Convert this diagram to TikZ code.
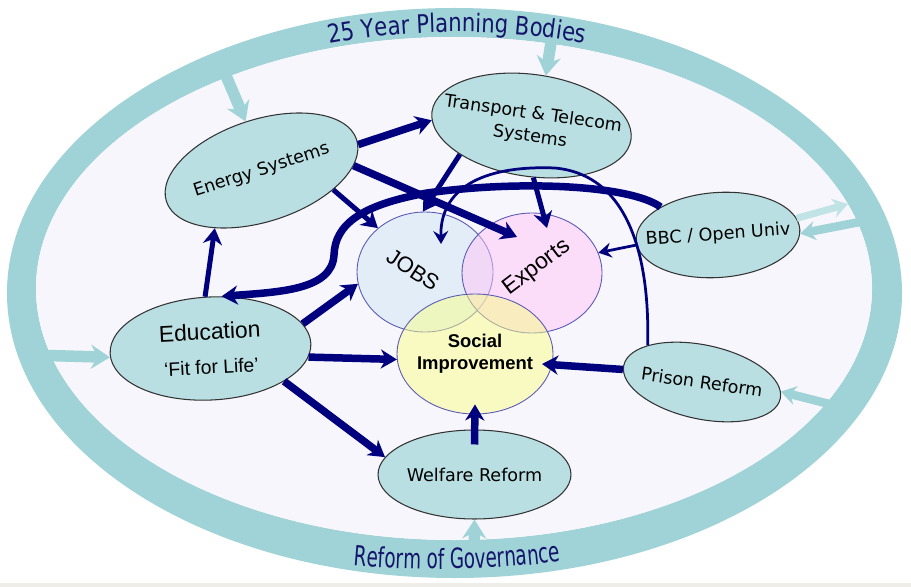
\documentclass[tikz,border=0pt]{standalone}
\usepackage{fontspec}
\setmainfont{Liberation Sans}
\newfontfamily\topicfont{DejaVu Sans}
\newfontfamily\bodiesfont[FakeStretch=0.83]{DejaVu Sans}
\newfontfamily\governfont[FakeStretch=0.66]{DejaVu Sans}
\usepackage{xcolor}
\usetikzlibrary{arrows.meta,calc,decorations.text,positioning,shapes.geometric}
\definecolor{ringteal}{HTML}{9FD3D7}
\definecolor{paleteal}{HTML}{C0E4E6}
\definecolor{bubblefill}{HTML}{B9DFE2}
\definecolor{insidebg}{HTML}{F7F6FD}
\definecolor{linknavy}{HTML}{00007F}
\definecolor{titlenavy}{HTML}{14146B}
\definecolor{vennline}{HTML}{5A5AB4}
\definecolor{jobsblue}{HTML}{D1E6F3}
\definecolor{exportpink}{HTML}{FFC4F7}
\definecolor{socialyellow}{HTML}{F9FF89}
\definecolor{stripgrey}{HTML}{EFEDE8}
\newcommand{\nw}[1]{\makebox[0pt]{#1}}
\tikzset{%
	bubble/.style   = {ellipse, draw=black!80, line width=0.6pt, fill=bubblefill, inner sep=0pt, align=center, font=\topicfont\fontsize{10}{13}\selectfont}, % topic
	venn/.style     = {ellipse, draw=vennline, line width=0.5pt, fill opacity=0.5, text opacity=1, inner sep=0pt, align=center}, % aim
	feed/.style     = {draw=ringteal, line width=0.23cm, -{Stealth[length=3.8mm,width=4.8mm,inset=1.3mm]}}, % from the ring
	smallfeed/.style = {feed, line width=0.17cm, -{Stealth[length=3mm,width=3.8mm,inset=1mm]}},
	link/.style     = {draw=linknavy, line width=0.15cm, -{Stealth[length=3.2mm,width=3.8mm,inset=1mm]}},
	midlink/.style  = {link, line width=0.1cm},
	thinlink/.style = {draw=linknavy, line width=0.055cm, -{Stealth[length=2.6mm,width=3mm,inset=0.9mm]}},
}
\begin{document}
\begin{tikzpicture}[x=0.02cm, y=-0.02cm]
	\useasboundingbox (0,0) rectangle (911,587);
	\fill[white] (0,0) rectangle (911,587);
	\fill[stripgrey] (0,583) rectangle (911,587);
	% ring
	\fill[ringteal, even odd rule] (454.5,293) ellipse [x radius=447.5, y radius=285] (454,288.5) ellipse [x radius=418, y radius=251.5];
	\fill[insidebg] (454,288.5) ellipse [x radius=418, y radius=251.5];
	% aims
	\node[venn, fill=jobsblue, minimum width=2.72cm, minimum height=2.4cm] (jobs) at (425,272) {};
	\node[venn, fill=exportpink, minimum width=2.8cm, minimum height=2.4cm] (exports) at (532,273) {};
	\node[venn, fill=socialyellow, minimum width=3.12cm, minimum height=2.4cm, font=\bfseries\fontsize{10.5}{12.5}\selectfont] (social) at (475,354) {\nw{Social}\\\nw{Improvement}};
	\node[rotate=-33, font=\fontsize{12.5}{14}\selectfont] (jobslabel) at (413,270) {JOBS};
	\node[rotate=37, font=\fontsize{13}{15}\selectfont] (exportslabel) at (537,268) {Exports};
	% topics
	\node[bubble, rotate=18, minimum width=4cm, minimum height=2.04cm] (energy) at (261.5,170.5) {\nw{Energy Systems}};
	\node[bubble, rotate=-8, minimum width=4.02cm, minimum height=2.04cm] (transport) at (531.5,125.5) {\nw{Transport \& Telecom}\\\nw{Systems}};
	\node[bubble, rotate=4, minimum width=3.28cm, minimum height=1.7cm] (bbc) at (718,235) {\nw{BBC / Open Univ}};
	\node[bubble, rotate=-12, minimum width=3.2cm, minimum height=1.48cm] (prison) at (702,382) {\nw{\rotatebox{4}{Prison Reform}}};
	\node[bubble, rotate=3, minimum width=4.02cm, minimum height=2.06cm, font=\fontsize{11}{13.5}\selectfont] (edu) at (210.5,348.5) {\nw{\fontsize{13}{15}\selectfont Education}\\[6pt]\nw{‘Fit for Life’}};
	\node[bubble, minimum width=3.86cm, minimum height=1.78cm] (welfare) at (474.5,474.5) {\nw{Welfare Reform}};
	% feeds from the ring
	\coordinate (ringtl) at (221,64);
	\coordinate (ringtop) at (553,30);
	\coordinate (ringleft) at (30,355);
	\coordinate (ringbbcin) at (870,220);
	\coordinate (ringbbcout) at (848,204);
	\coordinate (ringprison) at (845,408);
	\coordinate (ringbottom) at (474,560);
	\draw[feed] (ringtl) -- (energy.90);
	\draw[feed] (ringtop) -- (transport.82);
	\draw[feed] (ringleft) -- (edu.182);
	\draw[smallfeed] (ringbbcin) -- (bbc.-3);
	\draw[smallfeed, draw=paleteal, line width=0.14cm] (bbc.8) -- (ringbbcout);
	\draw[smallfeed] (ringprison) -- (prison.5);
	\draw[feed] (ringbottom) -- (welfare.south);
	% links
	\draw[link] (energy.-3) -- (transport.185);
	\draw[midlink] (energy.-33) -- (jobs.137);
	\draw[link] (energy.-15) -- ($(exports.center)+(-15,-36)$);
	\draw[midlink] (transport.210) -- (jobs.92);
	\draw[midlink] (transport.-80) -- ($(exports.center)+(15,-45)$);
	\draw[thinlink] (prison.158) .. controls (650,260) and (630,175) .. (555,168) .. controls (480,165) and (440,190) .. ($(jobs.center)+(16,-28)$);
	\draw[link] (bbc.150) .. controls (630,185) and (520,180) .. (427,193) .. controls (360,205) and (335,225) .. (334,255) .. controls (332,290) and (280,292) .. (edu.75);
	\draw[thinlink] (bbc.183) -- (exports.17);
	\draw[midlink] (edu.93) -- (energy.213);
	\draw[link] (edu.12) -- (jobs.190);
	\draw[link] (edu.-8) -- (social.184);
	\draw[link] (edu.-27) -- (welfare.169);
	\draw[link] ([yshift=-0.3cm]welfare.north) -- ($(social.south)+(0,-10)$);
	\draw[link] (prison.183) -- ($(social.center)+(67,10)$);
	% ring titles
	\path[decorate, decoration={text along path, text align=center, text color=titlenavy, text={|\bodiesfont\fontsize{14.5}{16}\selectfont|25 Year Planning Bodies}}] ($(457,293)+(200:433 and 261)$) arc [start angle=200, end angle=340, x radius=433, y radius=261];
	\path[decorate, decoration={text along path, text align=center, text color=titlenavy, text={|\governfont\fontsize{15.8}{17}\selectfont|Reform of Governance}}] ($(440,293)+(108:520 and 276)$) arc [start angle=108, end angle=68, x radius=520, y radius=276];
\end{tikzpicture}
\end{document}
